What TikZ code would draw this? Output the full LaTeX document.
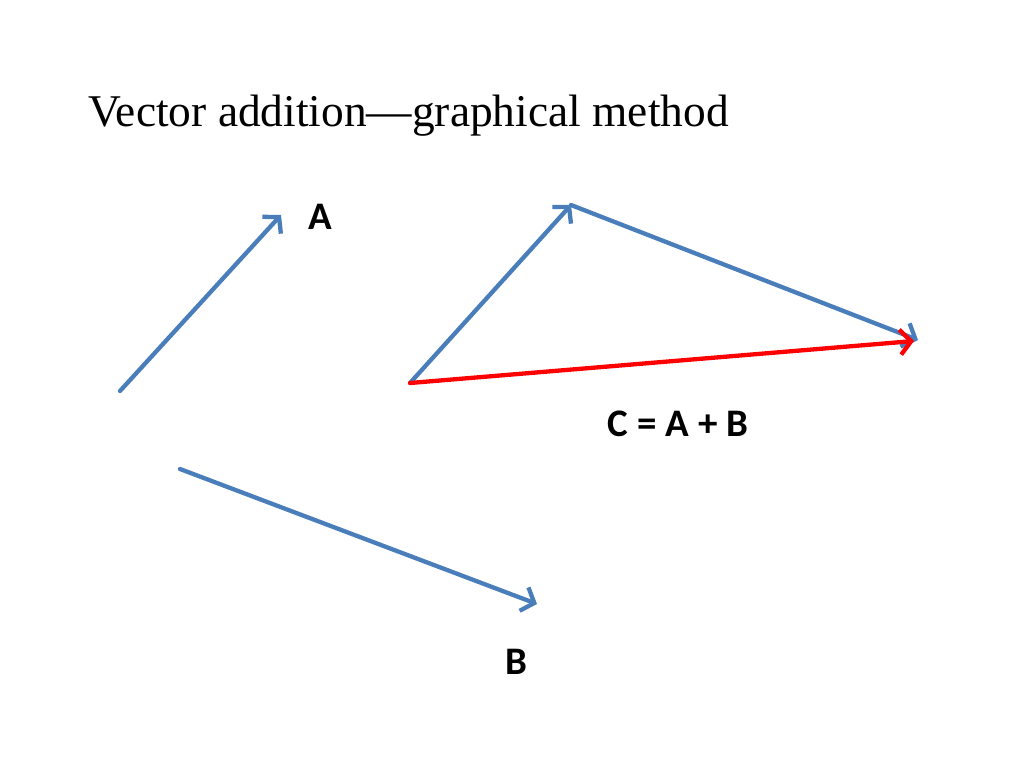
\documentclass[tikz,border=0pt]{standalone}
\usepackage{fontspec}
\setmainfont{Liberation Serif}
\newfontfamily\lblfont{Carlito}
\usetikzlibrary{arrows.meta}
\definecolor{vecblue}{HTML}{4A7EBB}
\definecolor{vecred}{HTML}{FF0000}
\tikzset{
  vec/.style={line width=4.3pt, vecblue, -{Straight Barb[length=11pt,width=25pt,line width=4.3pt]}, line cap=round},
  resvec/.style={vec, vecred},
  lbl/.style={font=\lblfont\bfseries\fontsize{39}{46}\selectfont, inner sep=0pt, text=black},
  ttl/.style={font=\fontsize{45.4}{52}\selectfont, inner sep=0pt, anchor=base west, text=black}
}
\begin{document}
\begin{tikzpicture}[x=1pt,y=-1pt]
\useasboundingbox (0,0) rectangle (1024,768);
\node[ttl] (title) at (88,126) {Vector addition---graphical method};
% single vectors
\coordinate (a0) at (120,391);
\coordinate (a1) at (281,215);
\coordinate (b0) at (180,469);
\coordinate (b1) at (537,604);
\draw[vec] (a0) -- (a1);
\draw[vec] (b0) -- (b1);
\node[lbl] (la) at (320,217) {A};
\node[lbl] (lb) at (516,662) {B};
% triangle
\coordinate (p0) at (410,383);
\coordinate (p1) at (571,205);
\coordinate (p2) at (918,340);
\draw[vec] (p0) -- (p1);
\draw[vec] (p1) -- (p2);
\draw[resvec] (p0) -- (914,341);
\node[lbl] (lc) at (678,424) {C = A + B};
\end{tikzpicture}
\end{document}
